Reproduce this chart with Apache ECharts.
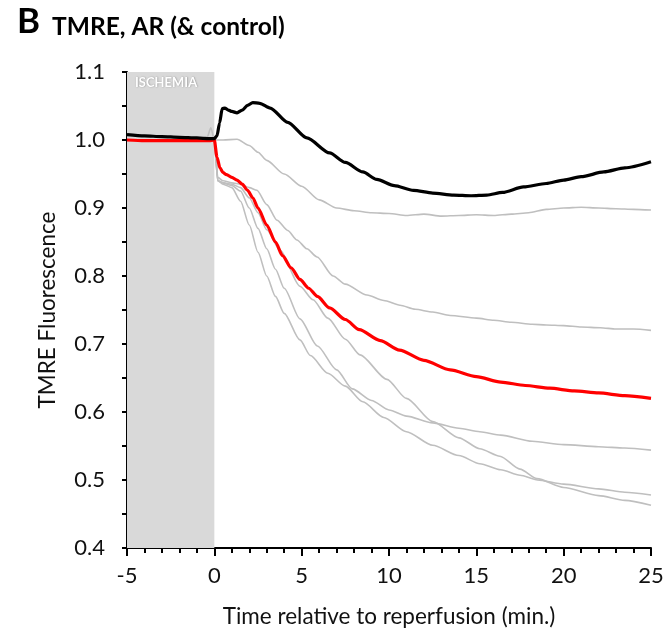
<!DOCTYPE html>
<html><head><meta charset="utf-8">
<script src="https://cdn.jsdelivr.net/npm/echarts@6/dist/echarts.min.js"></script>
<style>html,body{margin:0;padding:0;background:#fff}#c{width:665px;height:628px}</style>
</head><body><div id="c"></div>
<script>
// ---- data ----
const xTicks = [-5, 0, 5, 10, 15, 20, 25];
const yTicks = [0.4, 0.5, 0.6, 0.7, 0.8, 0.9, 1.0, 1.1];
const ischemiaStart = -5, ischemiaEnd = 0;

const controlT = [-5, -4, -3, -2, -1, -0.3, 0, 0.15, 0.3, 0.45, 0.6, 0.8, 1.0, 1.3, 1.6, 1.9, 2.2, 2.6, 3.2, 4.2, 5.3, 6.6, 7.5, 8.5, 9.3, 10.3, 11.4, 12.5, 13.7, 14.7, 15.6, 16.5, 17.7, 19, 20, 21, 22.3, 23.5, 25];
const controlV = [1.008, 1.006, 1.005, 1.004, 1.003, 1.002, 1.002, 1.006, 1.025, 1.046, 1.047, 1.044, 1.042, 1.040, 1.044, 1.051, 1.055, 1.054, 1.047, 1.026, 1.003, 0.981, 0.967, 0.953, 0.942, 0.933, 0.926, 0.922, 0.919, 0.918, 0.919, 0.923, 0.931, 0.936, 0.941, 0.946, 0.953, 0.959, 0.968];

const avgT = [-5, -4, -3, -2, -1, -0.3, 0, 0.15, 0.32, 0.5, 0.7, 1.0, 1.3, 1.6, 1.9, 2.2, 2.5, 3.0, 3.5, 3.9, 4.4, 4.9, 5.4, 5.9, 6.6, 7.5, 8.3, 9.5, 10.6, 12, 13.5, 15, 16.4, 17.8, 19.2, 20.6, 22, 23.5, 25];
const avgV = [1.0, 0.999, 0.999, 0.999, 0.999, 0.999, 1.0, 0.975, 0.959, 0.952, 0.949, 0.945, 0.941, 0.935, 0.926, 0.915, 0.9, 0.875, 0.85, 0.83, 0.812, 0.795, 0.782, 0.77, 0.753, 0.736, 0.721, 0.705, 0.691, 0.676, 0.662, 0.652, 0.644, 0.639, 0.635, 0.631, 0.628, 0.624, 0.620];

const g1T = [-5, -3, -1, -0.3, 0, 0.5, 1.3, 2.0, 2.5, 3.0, 4.0, 5.0, 6.0, 7.0, 8.0, 9.0, 10.0, 11, 12.0, 13, 14, 15.0, 16, 17.0, 18, 19.0, 20.0, 21, 22.0, 23, 24, 25];
const g1V = [1.0, 1.0, 1.0, 1.0, 1.0, 1.0, 1.001, 0.992, 0.982, 0.97, 0.95, 0.932, 0.912, 0.9, 0.896, 0.893, 0.892, 0.889, 0.891, 0.888, 0.889, 0.890, 0.889, 0.891, 0.893, 0.898, 0.900, 0.901, 0.900, 0.899, 0.898, 0.897];

const g2T = [-5, -3, -1, -0.3, 0, 0.2, 0.5, 1.0, 1.5, 2.0, 2.44, 3.0, 3.59, 4.2, 4.73, 5.3, 5.88, 6.8, 7.5, 8.74, 9.7, 10.63, 11.5, 12.5, 13.5, 15, 16, 17, 18.2, 19, 20, 21, 22.1, 23, 24, 25];
const g2V = [1.0, 1.0, 1.0, 1.0, 1.0, 0.945, 0.94, 0.937, 0.935, 0.93, 0.926, 0.905, 0.882, 0.867, 0.853, 0.84, 0.828, 0.80, 0.788, 0.772, 0.764, 0.757, 0.751, 0.747, 0.742, 0.738, 0.735, 0.732, 0.729, 0.728, 0.727, 0.725, 0.724, 0.722, 0.722, 0.720];

const g3T = [-5, -3, -1, -0.4, -0.2, 0, 0.2, 0.5, 1.0, 1.5, 2.0, 2.5, 3.0, 3.5, 4.0, 4.9, 5.9, 7.0, 7.9, 9, 10, 11, 12.5, 14, 15.2, 16.4, 18.2, 20, 22, 23.5, 25];
const g3V = [1.0, 1.0, 1.0, 1.005, 1.018, 1.0, 0.94, 0.937, 0.933, 0.925, 0.9, 0.87, 0.84, 0.81, 0.782, 0.737, 0.697, 0.662, 0.634, 0.617, 0.603, 0.594, 0.584, 0.576, 0.571, 0.566, 0.557, 0.552, 0.549, 0.547, 0.544];

const g4T = [-5, -3, -1, 0, 0.2, 0.5, 1.0, 1.5, 2.0, 2.5, 3.0, 3.5, 4.0, 4.9, 5.5, 6.5, 7.5, 8.5, 9.7, 11, 12.5, 14, 15.2, 16.4, 17.5, 18.5, 20, 22, 23.5, 25];
const g4V = [1.0, 1.0, 1.0, 1.0, 0.94, 0.935, 0.93, 0.91, 0.875, 0.835, 0.8, 0.77, 0.745, 0.706, 0.683, 0.657, 0.638, 0.615, 0.592, 0.571, 0.551, 0.536, 0.524, 0.515, 0.507, 0.500, 0.494, 0.487, 0.482, 0.478];

const g5T = [-5, -3, -1, 0, 0.2, 0.5, 1.0, 1.5, 2.0, 2.5, 3.0, 3.76, 4.9, 5.65, 6.5, 7.5, 8.34, 9.88, 11, 12.5, 14, 15.2, 16.35, 17.5, 18.47, 20, 22, 23.5, 25];
const g5V = [1.0, 1.0, 1.0, 1.0, 0.94, 0.937, 0.935, 0.93, 0.915, 0.893, 0.868, 0.838, 0.785, 0.765, 0.738, 0.707, 0.684, 0.648, 0.62, 0.586, 0.562, 0.546, 0.535, 0.516, 0.502, 0.489, 0.477, 0.47, 0.463];

const grayTraces = [[g1T, g1V], [g2T, g2V], [g3T, g3V], [g4T, g4V], [g5T, g5V]];

// ---- chart ----
const zip = (t, v) => t.map((x, i) => [x, v[i]]);
const FONT = 'Lato';
const chart = echarts.init(document.getElementById('c'), null, {renderer: 'canvas'});

const series = grayTraces.map(([t, v], i) => ({
  type: 'line', data: zip(t, v), showSymbol: false, smooth: 0.25, smoothMonotone: 'x',
  lineStyle: {color: '#bfbfbf', width: 1.6}, z: 2,
  markArea: i === 0 ? {
    silent: true,
    itemStyle: {color: '#d9d9d9'},
    label: {show: true, position: 'insideTopLeft', formatter: 'ISCHEMIA', color: '#fff',
      fontFamily: FONT, fontWeight: 'bold', fontSize: 13, offset: [3, -1],
      textShadowColor: 'rgba(0,0,0,0.35)', textShadowBlur: 1.5, textShadowOffsetX: 0.5, textShadowOffsetY: 0.5},
    data: [[{xAxis: ischemiaStart}, {xAxis: ischemiaEnd}]]
  } : undefined
}));
series.push({type: 'line', data: zip(avgT, avgV), showSymbol: false, smooth: 0.25, smoothMonotone: 'x',
  lineStyle: {color: '#ff0000', width: 3.2}, z: 3});
series.push({type: 'line', data: zip(controlT, controlV), showSymbol: false, smooth: 0.25, smoothMonotone: 'x',
  lineStyle: {color: '#000000', width: 3.2}, z: 4});

chart.setOption({
  animation: false,
  backgroundColor: '#fff',
  title: {
    text: '{b|B}{t|TMRE, AR (& control)}', left: 12, top: -2,
    textStyle: {rich: {
      b: {fontFamily: FONT, fontWeight: 'bold', fontSize: 35, color: '#000'},
      t: {fontFamily: FONT, fontWeight: 'bold', fontSize: 24.5, color: '#000', padding: [12, 0, 0, 12]}
    }}
  },
  grid: {left: 127, right: 14, top: 72, bottom: 80, containLabel: false, outerBoundsMode: 'none'},
  xAxis: {
    type: 'value', min: xTicks[0], max: xTicks[xTicks.length - 1], interval: 5,
    name: 'Time relative to reperfusion (min.)', nameLocation: 'middle', nameGap: 57,
    nameTextStyle: {fontFamily: FONT, fontSize: 22.5, color: '#111'},
    axisLine: {onZero: false, lineStyle: {color: '#000', width: 2}},
    axisTick: {show: true, inside: false, length: 8, lineStyle: {color: '#000', width: 2}},
    minorTick: {show: true, splitNumber: 5, length: 5, lineStyle: {color: '#000', width: 2}},
    axisLabel: {fontFamily: FONT, fontSize: 22, color: '#111', margin: 17},
    splitLine: {show: false}
  },
  yAxis: {
    type: 'value', min: yTicks[0], max: yTicks[yTicks.length - 1], interval: 0.1,
    name: 'TMRE Fluorescence', nameLocation: 'middle', nameGap: 68, nameRotate: 90,
    nameTextStyle: {fontFamily: FONT, fontSize: 22.5, color: '#111'},
    axisLine: {show: true, onZero: false, lineStyle: {color: '#000', width: 2}},
    axisTick: {show: true, inside: false, length: 5, lineStyle: {color: '#000', width: 2}},
    minorTick: {show: true, splitNumber: 2, length: 5, lineStyle: {color: '#000', width: 2}},
    axisLabel: {fontFamily: FONT, fontSize: 22, color: '#111', margin: 22, formatter: v => v.toFixed(1)},
    splitLine: {show: false}
  },
  series: series
});
</script></body></html>
